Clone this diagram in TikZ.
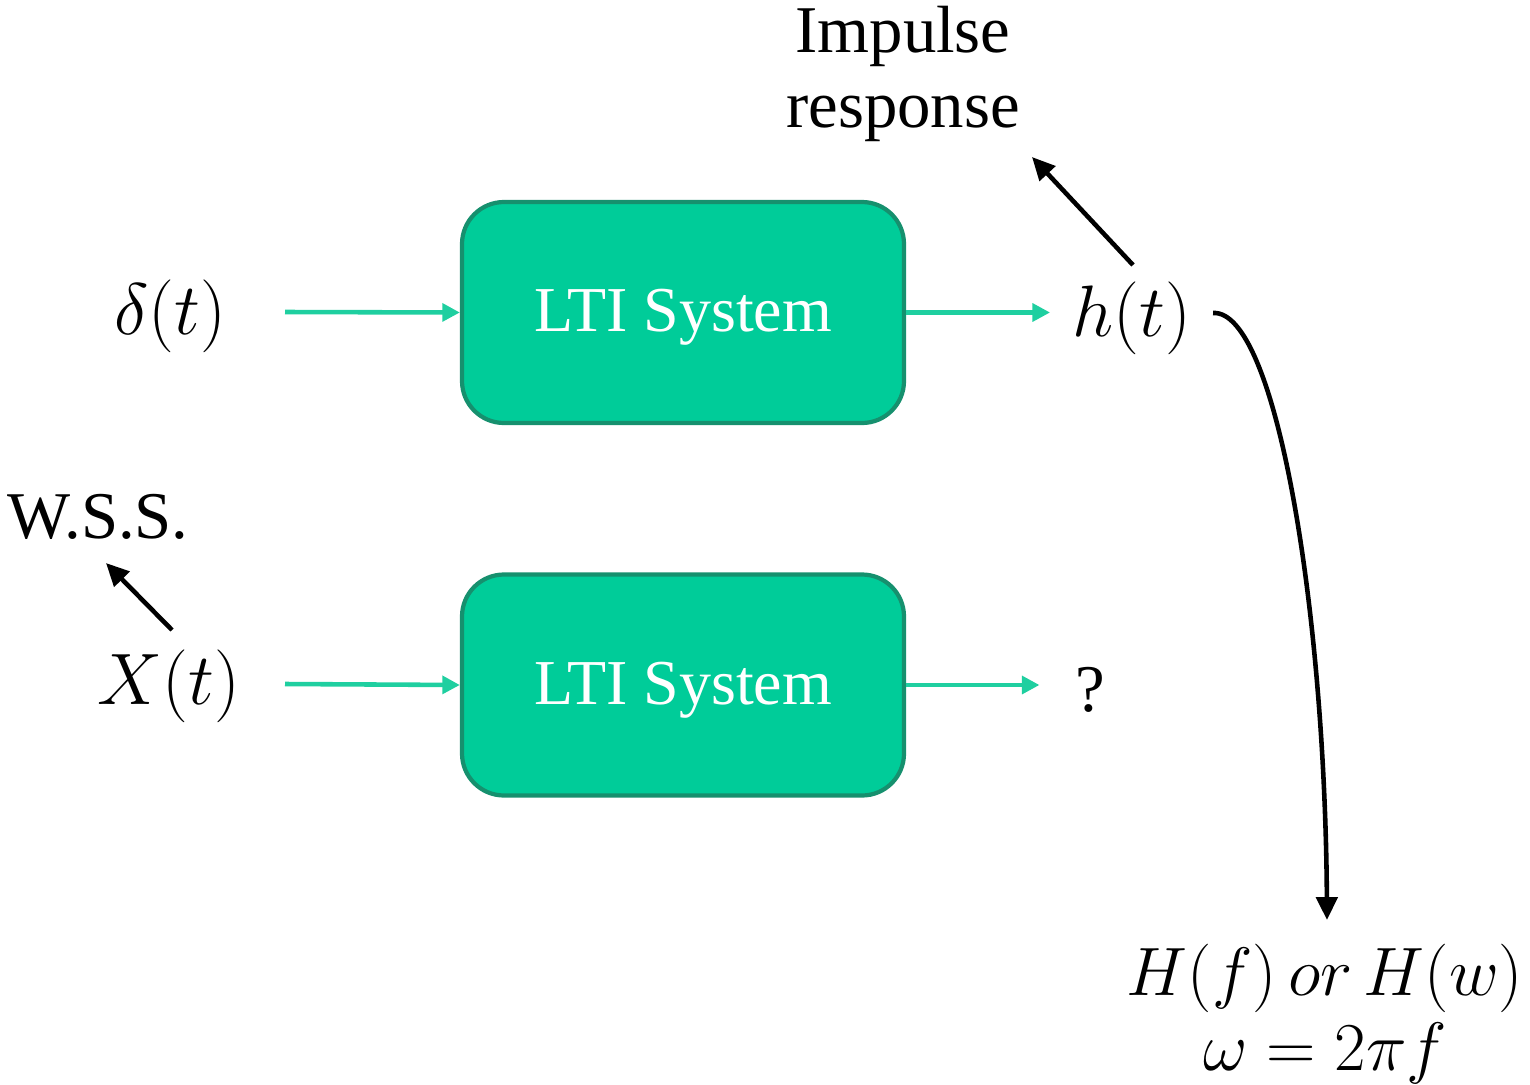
\documentclass[tikz,border=0pt]{standalone}
\usepackage{fontspec}
\setmainfont{Liberation Serif}
\usetikzlibrary{arrows.meta}
\definecolor{ltifill}{HTML}{00CC99}
\definecolor{ltiedge}{HTML}{16906E}
\definecolor{ltiarrow}{HTML}{1FCFA0}
\tikzset{
  ltibox/.style={draw=ltiedge, line width=1.2pt, fill=ltifill, rounded corners=0.42cm,
    minimum width=4.42cm, minimum height=2.21cm},
  ltilabel/.style={font=\fontsize{18.2}{22}\selectfont, text=white},
  sig/.style={font=\fontsize{19}{21.5}\selectfont, inner sep=0pt},
  mathsig/.style={font=\fontsize{20.5}{24}\selectfont, inner sep=0pt},
  greenarrow/.style={ltiarrow, line width=1.3pt, -{Triangle[length=5pt,width=5pt]}},
  blackarrow/.style={black, line width=1.3pt, -{Triangle[length=6.5pt,width=6pt]}}
}
\begin{document}
\begin{tikzpicture}
    \useasboundingbox (0,0) rectangle (15.3,10.84);
    % upper path
    \node[ltibox] (sys1) at (6.83,7.715) {};
    \node[ltilabel] (lab1) at (sys1) [yshift=-0.05cm] {LTI System};
    \node[mathsig] (delta) at (1.70,7.68) {$\delta(t)$};
    \node[mathsig] (hout) at (11.32,7.66) {$h(t)$};
    \coordinate (din) at (2.85,7.72);
    \draw[greenarrow] (din)--(sys1.west);
    \draw[greenarrow] (sys1.east)--([xshift=-0.22cm]hout.west |- sys1.east);
    \node[sig, align=center] (impulse) at (9.03,10.10) {Impulse\\response};
    \coordinate (hup) at (11.33,8.19);
    \coordinate (imptip) at (10.32,9.27);
    \draw[blackarrow] (hup)--(imptip);
    % lower path
    \node[ltibox] (sys2) at (6.83,3.99) {};
    \node[ltilabel] (lab2) at (sys2) [yshift=-0.05cm] {LTI System};
    \node[mathsig] (xin) at (1.69,3.98) {$X(t)$};
    \node[sig] (qout) at (10.90,3.94) {?};
    \coordinate (xstart) at (2.85,4.00);
    \draw[greenarrow] (xstart)--(sys2.west);
    \draw[greenarrow] (sys2.east)--([xshift=-0.35cm]qout.west |- sys2.east);
    \node[sig] (wss) at (0.98,5.67) {W.S.S.};
    \coordinate (xup) at (1.72,4.54);
    \coordinate (wsstip) at (1.06,5.21);
    \draw[blackarrow] (xup)--(wsstip);
    % transform
    \node[mathsig, align=center] (freq) at (13.25,0.70)
      {\scalebox{0.94}{$H(f)\mkern3mu or\mkern3mu H(w)$}\\[-0.1cm]\scalebox{0.94}{$\omega=2\pi f$}};
    \coordinate (hright) at (12.13,7.71);
    \coordinate (ftip) at (13.27,1.64);
    \draw[blackarrow] (hright) .. controls (12.75,7.75) and (13.25,4.8) .. (ftip);
\end{tikzpicture}
\end{document}
